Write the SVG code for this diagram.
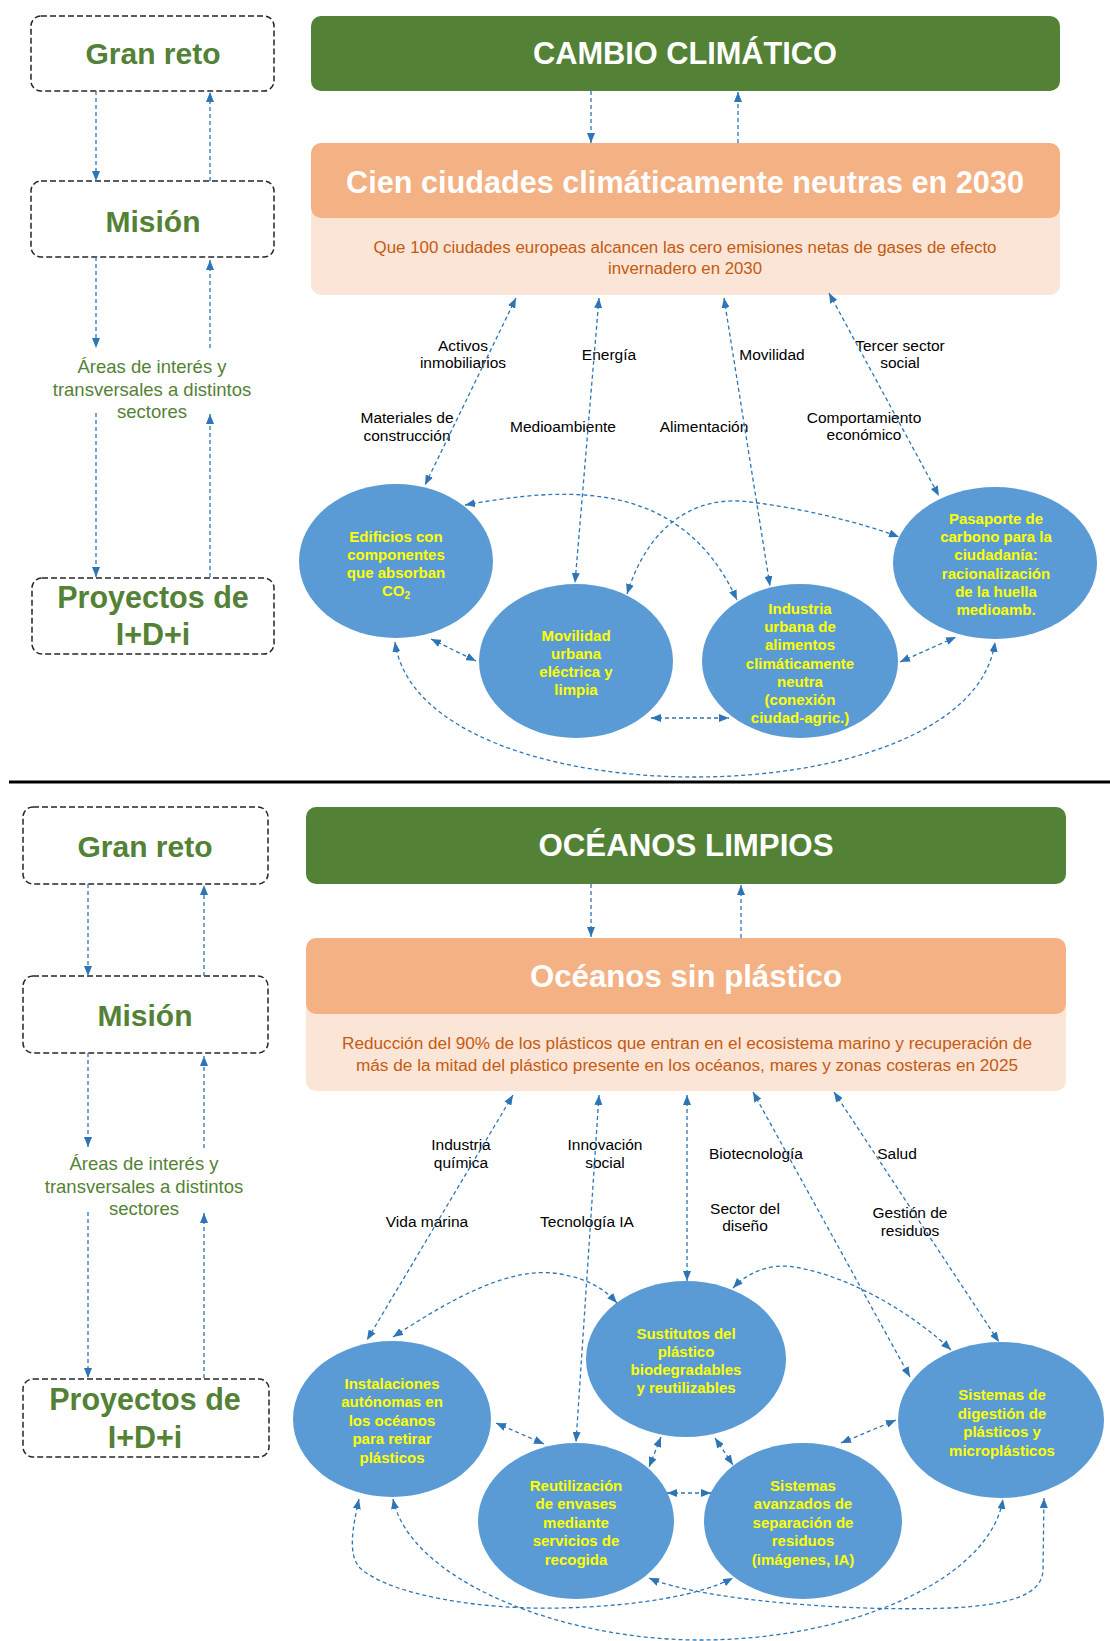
<svg xmlns="http://www.w3.org/2000/svg" width="1110" height="1641" viewBox="0 0 1110 1641">
<style>
.bx{fill:#fff;stroke:#262626;stroke-width:1.5;stroke-dasharray:6 3}
.gt{font-family:"Liberation Sans",Arial,sans-serif;font-weight:bold;fill:#538135;text-anchor:middle}
.ar{font-family:"Liberation Sans",Arial,sans-serif;font-size:18.5px;fill:#548235;text-anchor:middle}
.gb{fill:#538135}
.ob{fill:#F4B183}
.lb{fill:#FBE5D6}
.tt{font-family:"Liberation Sans",Arial,sans-serif;font-weight:bold;fill:#fff;text-anchor:middle}
.ot{font-family:"Liberation Sans",Arial,sans-serif;font-size:16px;fill:#C55A11;text-anchor:middle}
.el{fill:#5B9BD5}
.et{font-family:"Liberation Sans",Arial,sans-serif;font-weight:bold;font-size:15px;fill:#FFFF00;text-anchor:middle}
.la{font-family:"Liberation Sans",Arial,sans-serif;font-size:15.5px;fill:#000;text-anchor:middle}
.cn{fill:none;stroke:#2E75B6;stroke-width:1.3;stroke-dasharray:4 3}
.one{marker-end:url(#ah)}
.two{marker-start:url(#ah);marker-end:url(#ah)}
</style>
<defs>
<marker id="ah" viewBox="0 0 10 8" refX="10" refY="4" markerWidth="10" markerHeight="8" markerUnits="userSpaceOnUse" orient="auto-start-reverse">
<path d="M0,0 L10,4 L0,8 z" fill="#2E75B6"/>
</marker>
</defs>

<!-- ===================== TOP SECTION ===================== -->
<g id="t-granreto"><rect class="bx" x="31" y="16" width="243" height="75" rx="10"/><text class="gt" x="153" y="64" font-size="30">Gran reto</text></g>
<g id="t-mision"><rect class="bx" x="31" y="181" width="243" height="76" rx="10"/><text class="gt" x="153" y="232" font-size="30">Misión</text></g>
<g id="t-areas"><text class="ar" x="152" y="373">Áreas de interés y</text><text class="ar" x="152" y="396">transversales a distintos</text><text class="ar" x="152" y="418">sectores</text></g>
<g id="t-proyectos"><rect class="bx" x="32" y="578" width="242" height="76" rx="10"/><text class="gt" x="153" y="608" font-size="30.5">Proyectos de</text><text class="gt" x="153" y="645" font-size="30.5">I+D+i</text></g>

<g id="t-reto"><rect class="gb" x="311" y="16" width="749" height="75" rx="10"/><text class="tt" x="685" y="64" font-size="31" textLength="304" lengthAdjust="spacingAndGlyphs">CAMBIO CLIMÁTICO</text></g>
<g id="t-mision-box">
<rect class="lb" x="311" y="205" width="749" height="90" rx="10"/>
<rect class="ob" x="311" y="143" width="749" height="75" rx="10"/>
<text class="tt" x="685" y="193" font-size="31" textLength="678" lengthAdjust="spacingAndGlyphs">Cien ciudades climáticamente neutras en 2030</text>
<text class="ot" x="685" y="253" textLength="623" lengthAdjust="spacingAndGlyphs">Que 100 ciudades europeas alcancen las cero emisiones netas de gases de efecto</text>
<text class="ot" x="685" y="274" textLength="154" lengthAdjust="spacingAndGlyphs">invernadero en 2030</text>
</g>

<g id="t-edificios"><ellipse class="el" cx="396" cy="561" rx="97" ry="77"/><text class="et" x="396" y="542">Edificios con</text><text class="et" x="396" y="560">componentes</text><text class="et" x="396" y="578">que absorban</text><text class="et" x="396" y="596">CO<tspan font-size="10" dy="3">2</tspan></text></g>
<g id="t-movilidad"><ellipse class="el" cx="576" cy="661" rx="97" ry="77"/><text class="et" x="576" y="641">Movilidad</text><text class="et" x="576" y="659">urbana</text><text class="et" x="576" y="677">eléctrica y</text><text class="et" x="576" y="695">limpia</text></g>
<g id="t-industria"><ellipse class="el" cx="800" cy="661" rx="98" ry="77"/><text class="et" x="800" y="614">Industria</text><text class="et" x="800" y="632">urbana de</text><text class="et" x="800" y="650">alimentos</text><text class="et" x="800" y="669">climáticamente</text><text class="et" x="800" y="687">neutra</text><text class="et" x="800" y="705">(conexión</text><text class="et" x="800" y="723">ciudad-agric.)</text></g>
<g id="t-pasaporte"><ellipse class="el" cx="995" cy="563" rx="102" ry="76"/><text class="et" x="996" y="524">Pasaporte de</text><text class="et" x="996" y="542">carbono para la</text><text class="et" x="996" y="560">ciudadanía:</text><text class="et" x="996" y="579">racionalización</text><text class="et" x="996" y="597">de la huella</text><text class="et" x="996" y="615">medioamb.</text></g>

<g id="t-labels">
<text class="la" x="463" y="351">Activos</text><text class="la" x="463" y="368">inmobiliarios</text>
<text class="la" x="609" y="360">Energía</text>
<text class="la" x="772" y="360">Movilidad</text>
<text class="la" x="900" y="351">Tercer sector</text><text class="la" x="900" y="368">social</text>
<text class="la" x="407" y="423">Materiales de</text><text class="la" x="407" y="441">construcción</text>
<text class="la" x="563" y="432">Medioambiente</text>
<text class="la" x="704" y="432">Alimentación</text>
<text class="la" x="864" y="423">Comportamiento</text><text class="la" x="864" y="440">económico</text>
</g>

<g id="t-connectors">
<path class="cn one" d="M96,91 L96,181"/>
<path class="cn one" d="M210,181 L210,92"/>
<path class="cn one" d="M96,257 L96,348"/>
<path class="cn one" d="M210,348 L210,260"/>
<path class="cn one" d="M96,413 L96,577"/>
<path class="cn one" d="M210,577 L210,414"/>
<path class="cn one" d="M591,91 L591,143"/>
<path class="cn one" d="M738,143 L738,92"/>
<path class="cn two" d="M516,298 L425,485"/>
<path class="cn two" d="M599,298 L575,583"/>
<path class="cn two" d="M724,298 L770,586"/>
<path class="cn two" d="M829,293 L939,496"/>
<path class="cn two" d="M465,505 C560,488 680,475 737,600"/>
<path class="cn two" d="M627,594 C650,520 700,495 750,502 C800,508 860,522 899,537"/>
<path class="cn two" d="M431,639 L476,661"/>
<path class="cn two" d="M651,718 L729,718"/>
<path class="cn two" d="M900,662 L956,637"/>
<path class="cn two" d="M395,642 C420,822 970,822 995,642"/>
</g>

<line x1="9" y1="782" x2="1110" y2="782" stroke="#000" stroke-width="3"/>

<!-- ===================== BOTTOM SECTION ===================== -->
<g id="b-granreto"><rect class="bx" x="23" y="807" width="245" height="77" rx="10"/><text class="gt" x="145" y="857" font-size="30">Gran reto</text></g>
<g id="b-mision"><rect class="bx" x="23" y="976" width="245" height="77" rx="10"/><text class="gt" x="145" y="1026" font-size="30">Misión</text></g>
<g id="b-areas"><text class="ar" x="144" y="1170">Áreas de interés y</text><text class="ar" x="144" y="1193">transversales a distintos</text><text class="ar" x="144" y="1215">sectores</text></g>
<g id="b-proyectos"><rect class="bx" x="23" y="1379" width="246" height="78" rx="10"/><text class="gt" x="145" y="1410" font-size="30.5">Proyectos de</text><text class="gt" x="145" y="1448" font-size="30.5">I+D+i</text></g>

<g id="b-reto"><rect class="gb" x="306" y="807" width="760" height="77" rx="10"/><text class="tt" x="686" y="856" font-size="31" textLength="295" lengthAdjust="spacingAndGlyphs">OCÉANOS LIMPIOS</text></g>
<g id="b-mision-box">
<rect class="lb" x="306" y="1000" width="760" height="91" rx="10"/>
<rect class="ob" x="306" y="938" width="760" height="76" rx="10"/>
<text class="tt" x="686" y="987" font-size="31" textLength="312" lengthAdjust="spacingAndGlyphs">Océanos sin plástico</text>
<text class="ot" x="687" y="1049" textLength="690" lengthAdjust="spacingAndGlyphs">Reducción del 90% de los plásticos que entran en el ecosistema marino y recuperación de</text>
<text class="ot" x="687" y="1071" textLength="662" lengthAdjust="spacingAndGlyphs">más de la mitad del plástico presente en los océanos, mares y zonas costeras en 2025</text>
</g>

<g id="b-instalaciones"><ellipse class="el" cx="392" cy="1419" rx="99" ry="78"/><text class="et" x="392" y="1389">Instalaciones</text><text class="et" x="392" y="1407">autónomas en</text><text class="et" x="392" y="1426">los océanos</text><text class="et" x="392" y="1444">para retirar</text><text class="et" x="392" y="1463">plásticos</text></g>
<g id="b-sustitutos"><ellipse class="el" cx="686" cy="1359" rx="100" ry="78"/><text class="et" x="686" y="1339">Sustitutos del</text><text class="et" x="686" y="1357">plástico</text><text class="et" x="686" y="1375">biodegradables</text><text class="et" x="686" y="1393">y reutilizables</text></g>
<g id="b-reutilizacion"><ellipse class="el" cx="576" cy="1521" rx="98" ry="78"/><text class="et" x="576" y="1491">Reutilización</text><text class="et" x="576" y="1509">de envases</text><text class="et" x="576" y="1528">mediante</text><text class="et" x="576" y="1546">servicios de</text><text class="et" x="576" y="1565">recogida</text></g>
<g id="b-separacion"><ellipse class="el" cx="803" cy="1521" rx="99" ry="78"/><text class="et" x="803" y="1491">Sistemas</text><text class="et" x="803" y="1509">avanzados de</text><text class="et" x="803" y="1528">separación de</text><text class="et" x="803" y="1546">residuos</text><text class="et" x="803" y="1565">(imágenes, IA)</text></g>
<g id="b-digestion"><ellipse class="el" cx="1001" cy="1420" rx="103" ry="78"/><text class="et" x="1002" y="1400">Sistemas de</text><text class="et" x="1002" y="1419">digestión de</text><text class="et" x="1002" y="1437">plásticos y</text><text class="et" x="1002" y="1456">microplásticos</text></g>

<g id="b-labels">
<text class="la" x="461" y="1150">Industria</text><text class="la" x="461" y="1168">química</text>
<text class="la" x="427" y="1227">Vida marina</text>
<text class="la" x="605" y="1150">Innovación</text><text class="la" x="605" y="1168">social</text>
<text class="la" x="587" y="1227">Tecnología IA</text>
<text class="la" x="756" y="1159">Biotecnología</text>
<text class="la" x="897" y="1159">Salud</text>
<text class="la" x="745" y="1214">Sector del</text><text class="la" x="745" y="1231">diseño</text>
<text class="la" x="910" y="1218">Gestión de</text><text class="la" x="910" y="1236">residuos</text>
</g>

<g id="b-connectors">
<path class="cn one" d="M88,884 L88,976"/>
<path class="cn one" d="M204,976 L204,885"/>
<path class="cn one" d="M88,1053 L88,1147"/>
<path class="cn one" d="M204,1148 L204,1056"/>
<path class="cn one" d="M88,1212 L88,1378"/>
<path class="cn one" d="M204,1378 L204,1213"/>
<path class="cn one" d="M591,884 L591,937"/>
<path class="cn one" d="M741,938 L741,885"/>
<path class="cn two" d="M513,1095 L367,1340"/>
<path class="cn two" d="M599,1095 L576,1442"/>
<path class="cn two" d="M687,1095 L687,1281"/>
<path class="cn two" d="M753,1092 L910,1377"/>
<path class="cn two" d="M834,1092 L999,1342"/>
<path class="cn two" d="M393,1337 C450,1300 510,1265 560,1274 C590,1279 605,1290 617,1303"/>
<path class="cn two" d="M733,1288 C750,1270 775,1262 800,1268 C860,1280 920,1320 951,1350"/>
<path class="cn two" d="M496,1423 L544,1444"/>
<path class="cn two" d="M661,1437 L649,1467"/>
<path class="cn two" d="M715,1438 L733,1465"/>
<path class="cn two" d="M667,1493 L711,1493"/>
<path class="cn two" d="M841,1443 L896,1420"/>
<path class="cn two" d="M359,1499 C352,1530 348,1555 360,1568 C390,1595 480,1610 560,1608 C640,1606 700,1595 733,1578"/>
<path class="cn two" d="M393,1499 C410,1580 560,1640 700,1640 C850,1640 990,1580 1003,1499"/>
<path class="cn two" d="M649,1578 C700,1600 850,1612 950,1608 C1010,1605 1042,1595 1043,1570 L1044,1498"/>
</g>
</svg>
